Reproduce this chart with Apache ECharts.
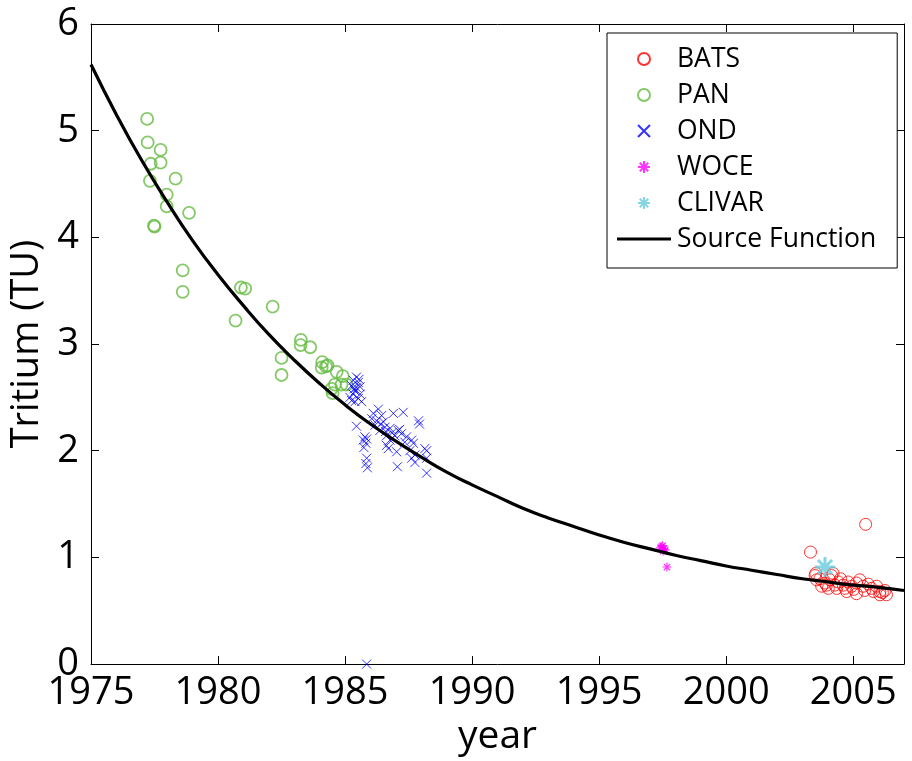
<!DOCTYPE html>
<html>
<head>
<meta charset="utf-8">
<script src="https://cdn.jsdelivr.net/npm/echarts@6/dist/echarts.min.js"></script>
<style>html,body{margin:0;padding:0;background:#fff;}#c{width:912px;height:761px;}</style>
</head>
<body>
<div id="c"></div>
<script>
// ---- data ----
const batsYears = [2003.32, 2005.49, 2003.53, 2003.69, 2003.89, 2004.08, 2004.21, 2004.41, 2004.61, 2004.80, 2004.94, 2005.13, 2005.26, 2005.39, 2005.59, 2005.72, 2005.92, 2006.05, 2006.25, 2006.31, 2005.13, 2004.74, 2004.35, 2004.02, 2003.76, 2003.56, 2003.50, 2004.15, 2004.50, 2006.05, 2003.95, 2004.28, 2004.68, 2005.02, 2005.45, 2005.80, 2006.15];
const batsValues = [1.05, 1.31, 0.85, 0.80, 0.76, 0.79, 0.85, 0.77, 0.74, 0.77, 0.73, 0.76, 0.79, 0.73, 0.75, 0.71, 0.73, 0.68, 0.69, 0.65, 0.66, 0.68, 0.71, 0.71, 0.73, 0.79, 0.83, 0.83, 0.80, 0.65, 0.74, 0.74, 0.71, 0.70, 0.69, 0.68, 0.67];

const panYears = [1977.21, 1977.23, 1977.74, 1977.35, 1977.74, 1977.32, 1978.33, 1977.98, 1977.98, 1978.86, 1977.48, 1977.50, 1978.61, 1978.61, 1980.90, 1981.07, 1982.15, 1980.69, 1983.26, 1983.25, 1983.63, 1982.50, 1982.50, 1984.10, 1984.31, 1984.08, 1984.25, 1984.67, 1984.91, 1984.60, 1984.86, 1985.06, 1984.51, 1984.47];
const panValues = [5.11, 4.89, 4.82, 4.69, 4.70, 4.53, 4.55, 4.40, 4.29, 4.23, 4.11, 4.10, 3.69, 3.49, 3.53, 3.52, 3.35, 3.22, 3.04, 2.99, 2.97, 2.87, 2.71, 2.83, 2.80, 2.78, 2.79, 2.74, 2.70, 2.62, 2.62, 2.62, 2.54, 2.58];

const ondYears = [1985.45, 1985.32, 1985.52, 1985.26, 1985.59, 1985.39, 1985.32, 1985.59, 1985.19, 1985.52, 1985.39, 1985.65, 1985.26, 1985.45, 1985.45, 1985.78, 1985.85, 1985.72, 1985.82, 1985.74, 1985.85, 1985.82, 1985.88, 1986.31, 1986.11, 1986.44, 1986.24, 1986.51, 1986.18, 1986.57, 1986.37, 1986.77, 1986.90, 1987.29, 1986.63, 1986.77, 1986.96, 1987.09, 1987.22, 1987.42, 1986.63, 1986.70, 1987.03, 1987.06, 1987.89, 1987.93, 1987.62, 1987.69, 1987.55, 1987.75, 1987.62, 1987.75, 1988.14, 1988.21, 1988.21, 1988.21, 1985.85, 1985.55, 1985.35, 1986.05, 1986.40, 1986.60, 1986.85, 1987.15, 1987.35];
const ondValues = [2.69, 2.66, 2.64, 2.61, 2.60, 2.56, 2.53, 2.53, 2.50, 2.49, 2.46, 2.46, 2.47, 2.59, 2.23, 2.13, 2.11, 2.10, 2.07, 2.03, 1.93, 1.88, 1.84, 2.39, 2.35, 2.33, 2.28, 2.27, 2.24, 2.22, 2.19, 2.21, 2.35, 2.36, 2.14, 2.10, 2.14, 2.19, 2.16, 2.13, 2.05, 2.02, 1.99, 1.85, 2.28, 2.25, 2.10, 2.07, 2.00, 1.96, 1.93, 1.89, 2.02, 2.00, 1.93, 1.79, 0.00, 2.67, 2.58, 2.30, 2.25, 2.18, 2.17, 2.20, 2.08];

const woceYears = [1997.45, 1997.55, 1997.50, 1997.60, 1997.42, 1997.52, 1997.67];
const woceValues = [1.10, 1.08, 1.11, 1.07, 1.09, 1.06, 0.91];

const clivarYears = [2003.89];
const clivarValues = [0.91];

const sourceYears = [1975, 1976, 1977, 1978, 1979, 1980, 1981, 1982, 1983, 1984, 1985, 1986, 1987, 1988, 1989, 1990, 1991, 1992, 1993, 1994, 1995, 1996, 1997, 1998, 1999, 2000, 2001, 2002, 2003, 2004, 2005, 2006, 2007];
const sourceValues = [5.62, 5.15, 4.72, 4.33, 3.97, 3.65, 3.36, 3.09, 2.85, 2.63, 2.43, 2.25, 2.09, 1.94, 1.80, 1.68, 1.57, 1.46, 1.37, 1.29, 1.21, 1.14, 1.08, 1.02, 0.97, 0.92, 0.88, 0.84, 0.80, 0.77, 0.74, 0.72, 0.69];

const xTicks = [1975, 1980, 1985, 1990, 1995, 2000, 2005];
const yTicks = [0, 1, 2, 3, 4, 5, 6];

function zip(a, b) { return a.map((v, i) => [v, b[i]]); }

const FONT = '"Open Sans", "Noto Sans", sans-serif';
const X_PATH = 'path://M0,0L10,10M10,0L0,10';
const STAR_PATH = 'path://M5,0L5,10M0,5L10,5M1.46,1.46L8.54,8.54M8.54,1.46L1.46,8.54';
const LINE_ICON = 'path://M0,0L54,0L54,3.2L0,3.2Z';

const chart = echarts.init(document.getElementById('c'), null, {renderer: 'canvas'});

const axisCommon = {
  axisLine: {show: true, onZero: false, lineStyle: {color: '#000', width: 1}},
  axisTick: {show: true, inside: true, length: 8, lineStyle: {color: '#000', width: 1}},
  splitLine: {show: false}
};

const option = {
  backgroundColor: '#fff',
  animation: false,
  grid: {left: 91, right: 8, top: 24, bottom: 95, containLabel: false},
  xAxis: [
    Object.assign({
      type: 'value', min: xTicks[0], max: 2007, interval: 5, position: 'bottom',
      name: 'year', nameLocation: 'middle', nameGap: 52,
      nameTextStyle: {fontFamily: FONT, fontSize: 39, color: '#000'},
      axisLabel: {show: true, fontFamily: FONT, fontSize: 38, color: '#000', margin: 10,
        showMaxLabel: false,
        formatter: v => (xTicks.indexOf(v) >= 0 ? String(v) : '')}
    }, axisCommon),
    Object.assign({
      type: 'value', min: xTicks[0], max: 2007, interval: 5, position: 'top',
      axisLabel: {show: false}
    }, axisCommon)
  ],
  yAxis: [
    Object.assign({
      type: 'value', min: yTicks[0], max: yTicks[yTicks.length - 1], interval: 1, position: 'left',
      name: 'Tritium (TU)', nameLocation: 'middle', nameGap: 44, nameRotate: 90,
      nameTextStyle: {fontFamily: FONT, fontSize: 38, color: '#000'},
      axisLabel: {show: true, fontFamily: FONT, fontSize: 38, color: '#000', margin: 12}
    }, axisCommon),
    Object.assign({
      type: 'value', min: yTicks[0], max: yTicks[yTicks.length - 1], interval: 1, position: 'right',
      axisLabel: {show: false}
    }, axisCommon)
  ],
  legend: {
    show: true, orient: 'vertical', left: 607, top: 33,
    backgroundColor: '#fff', borderColor: '#000', borderWidth: 1,
    padding: [11, 21, 14, 10], itemGap: 6, itemWidth: 54, itemHeight: 12,
    textStyle: {fontFamily: FONT, fontSize: 26.5, color: '#000', lineHeight: 30, padding: [0, 0, 0, 1]},
    data: ['BATS', 'PAN', 'OND', 'WOCE', 'CLIVAR',
      {name: 'Source Function', icon: LINE_ICON, itemStyle: {color: '#000', borderWidth: 0}}]
  },
  series: [
    {
      name: 'BATS', type: 'scatter', data: zip(batsYears, batsValues),
      symbol: 'circle', symbolSize: 12,
      itemStyle: {color: 'rgba(255,255,255,0)', borderColor: '#ff0000', borderWidth: 1}
    },
    {
      name: 'PAN', type: 'scatter', data: zip(panYears, panValues),
      symbol: 'circle', symbolSize: 12,
      itemStyle: {color: 'rgba(255,255,255,0)', borderColor: '#66bb44', borderWidth: 1.8}
    },
    {
      name: 'OND', type: 'scatter', data: zip(ondYears, ondValues),
      symbol: X_PATH, symbolSize: 9,
      itemStyle: {color: '#0000ff', borderColor: '#0000ff', borderWidth: 1}
    },
    {
      name: 'WOCE', type: 'scatter', data: zip(woceYears, woceValues),
      symbol: STAR_PATH, symbolSize: 9,
      itemStyle: {color: '#ff00ff', borderColor: '#ff00ff', borderWidth: 1.2}
    },
    {
      name: 'CLIVAR', type: 'scatter', data: zip(clivarYears, clivarValues),
      symbol: STAR_PATH, symbolSize: 20,
      itemStyle: {color: '#66ccdd', borderColor: '#66ccdd', borderWidth: 3}
    },
    {
      name: 'Source Function', type: 'line', data: zip(sourceYears, sourceValues),
      smooth: true, symbol: 'none', showSymbol: false, z: 5,
      lineStyle: {color: '#000', width: 3.2},
      itemStyle: {color: '#000'}
    }
  ]
};
chart.setOption(option);
</script>
</body>
</html>
